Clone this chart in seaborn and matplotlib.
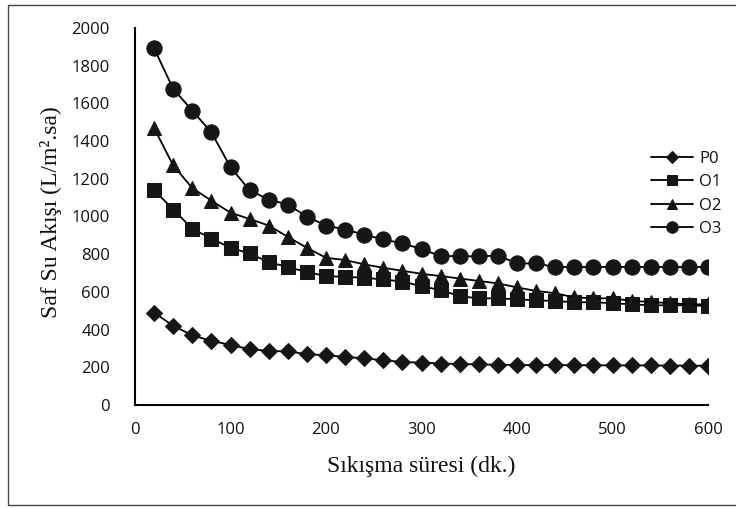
import matplotlib
matplotlib.use("Agg")
import matplotlib.pyplot as plt
import seaborn as sns
import pandas as pd
from matplotlib.patches import Rectangle

sns.set_theme(style="white")
plt.rcParams['font.family'] = ['Open Sans', 'DejaVu Sans']

time_min = [20, 40, 60, 80, 100, 120, 140, 160, 180, 200, 220, 240, 260, 280, 300,
            320, 340, 360, 380, 400, 420, 440, 460, 480, 500, 520, 540, 560, 580, 600]
p0 = [490, 420, 370, 340, 319, 296, 287, 284, 270, 264, 256, 247, 238, 228, 225,
      220, 218, 215, 214, 212, 212, 212, 211, 211, 210, 210, 210, 209, 209, 208]
o1 = [1140, 1037, 935, 883, 834, 804, 758, 732, 705, 684, 680, 675, 666, 655, 630,
      610, 577, 566, 566, 561, 555, 552, 545, 545, 540, 534, 529, 529, 529, 525]
o2 = [1469, 1271, 1151, 1084, 1020, 987, 952, 892, 834, 781, 769, 746, 728, 712, 696,
      684, 671, 658, 645, 624, 605, 593, 571, 566, 566, 552, 547, 540, 534, 534]
o3 = [1892, 1677, 1562, 1446, 1262, 1139, 1090, 1063, 1000, 952, 931, 904, 878, 858, 827,
      790, 790, 788, 793, 751, 751, 732, 732, 732, 732, 732, 732, 732, 732, 732]

series_names = ["P0", "O1", "O2", "O3"]
series_vals = [p0, o1, o2, o3]
markers = {"P0": "D", "O1": "s", "O2": "^", "O3": "o"}
msizes = {"P0": 8, "O1": 10, "O2": 10.5, "O3": 11}

x_ticks = [0, 100, 200, 300, 400, 500, 600]
y_ticks = [0, 200, 400, 600, 800, 1000, 1200, 1400, 1600, 1800, 2000]

fig = plt.figure(figsize=(7.36, 5.08), dpi=100)
ax = fig.add_axes([135/736, 1-405/508, (708-135)/736, (405-28)/508])

mk_color = "#161616"
for name, vals in zip(series_names, series_vals):
    df = pd.DataFrame({"t": time_min, "v": vals})
    sns.lineplot(data=df, x="t", y="v", ax=ax, color="black", lw=1.3,
                 marker=markers[name], markersize=msizes[name],
                 markerfacecolor=mk_color, markeredgecolor=mk_color,
                 label=name)

ax.set_xlim(0, 600)
ax.set_ylim(0, 2000)
ax.set_xticks(x_ticks)
ax.set_yticks(y_ticks)
ax.tick_params(axis="both", which="major", direction="out", length=6, width=1.2,
               color="#8a8a8a", labelsize=12, labelcolor="#111111")
ax.tick_params(axis="y", pad=12)
ax.tick_params(axis="x", pad=6)
for s in ["top", "right"]:
    ax.spines[s].set_visible(False)
for s in ["left", "bottom"]:
    ax.spines[s].set_color("black")
    ax.spines[s].set_linewidth(1.5)

ax.set_xlabel("Sıkışma süresi (dk.)", fontfamily="Liberation Serif", fontsize=17,
              color="#111111")
ax.set_ylabel("Saf Su Akışı (L/m².sa)", fontfamily="Liberation Serif", fontsize=17,
              color="#111111")
ax.xaxis.set_label_coords(0.499, -0.135)
ax.yaxis.set_label_coords(-0.128, 0.512)

leg = ax.legend(loc="upper left", bbox_to_anchor=(0.9005, 0.675), frameon=False,
                fontsize=12, borderpad=0, borderaxespad=0, handlelength=2.5,
                handletextpad=0.4, labelspacing=0.45, markerscale=0.75)
for t in leg.get_texts():
    t.set_color("#111111")

fig.patches.append(Rectangle((8/736, 1-505/508), 740/736, 500/508, transform=fig.transFigure,
                             fill=False, edgecolor="#444444", lw=1.0))

fig.savefig("out.png", dpi=100)
